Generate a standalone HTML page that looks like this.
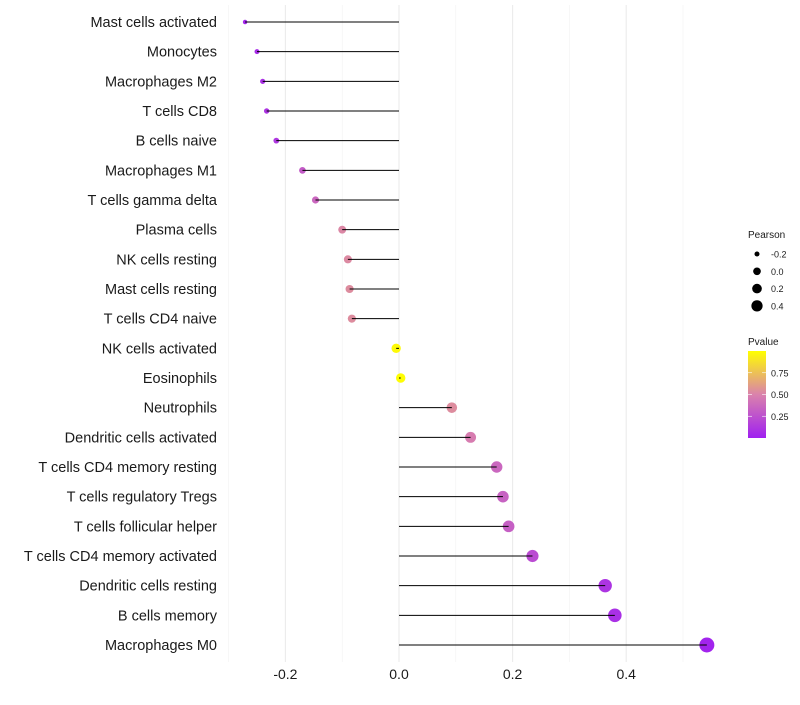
<!DOCTYPE html>
<html><head><meta charset="utf-8"><style>
body{margin:0;background:#fff;font-family:"Liberation Sans",sans-serif}
</style></head><body>
<svg id="c" width="800" height="700" xmlns="http://www.w3.org/2000/svg"></svg>
<script>
const cells=["Mast cells activated","Monocytes","Macrophages M2","T cells CD8","B cells naive","Macrophages M1","T cells gamma delta","Plasma cells","NK cells resting","Mast cells resting","T cells CD4 naive","NK cells activated","Eosinophils","Neutrophils","Dendritic cells activated","T cells CD4 memory resting","T cells regulatory  Tregs ","T cells follicular helper","T cells CD4 memory activated","Dendritic cells resting","B cells memory","Macrophages M0"];
const pearson=[-0.271,-0.25,-0.24,-0.233,-0.216,-0.17,-0.147,-0.1,-0.09,-0.087,-0.083,-0.005,0.003,0.093,0.126,0.172,0.183,0.193,0.235,0.363,0.38,0.542];
const pvalue=[0.03,0.06,0.08,0.1,0.12,0.3,0.36,0.52,0.53,0.54,0.54,0.98,0.99,0.54,0.47,0.36,0.34,0.32,0.22,0.1,0.08,0.02];
const xTicks=[-0.2,0,0.2,0.4];
const xTickLabels=["-0.2","0.0","0.2","0.4"];
const xMinor=[-0.3,-0.1,0.1,0.3,0.5];
const sizeLegend=[-0.2,0,0.2,0.4];
const sizeLegendLabels=["-0.2","0.0","0.2","0.4"];
const pLegend=[0.25,0.5,0.75];
const pLegendLabels=["0.25","0.50","0.75"];

const svg=document.getElementById('c');
const NS="http://www.w3.org/2000/svg";
const xS=v=>399+v*568;
const yS=i=>22+i*(623/21);
const rS=v=>Math.sqrt(4.9+(v+0.271)*63);
function lerp(a,b,t){return a.map((x,i)=>Math.round(x+(b[i]-x)*t));}
function col(p){const c0=[160,32,240],c1=[218,130,172],c2=[255,255,0];
 const c=p<0.5?lerp(c0,c1,p/0.5):lerp(c1,c2,(p-0.5)/0.5);return `rgb(${c.join(',')})`;}
function el(t,a,p){const e=document.createElementNS(NS,t);for(const k in a)e.setAttribute(k,a[k]);(p||svg).appendChild(e);return e;}

xMinor.forEach(v=>{const l=el('line',{x1:xS(v),x2:xS(v),y1:5,y2:662,stroke:'#f2f2f2','stroke-width':0.6});

});
xTicks.forEach((v,i)=>{const l=el('line',{x1:xS(v),x2:xS(v),y1:5,y2:662,stroke:'#ebebeb','stroke-width':1.1});


const t=el('text',{x:xS(v),y:679,'text-anchor':'middle','font-size':14,fill:'#1a1a1a'});t.textContent=xTickLabels[i];

});
cells.forEach((c,i)=>{
 const y=yS(i);
 const t=el('text',{x:217,y:y+5,'text-anchor':'end','font-size':14.5,fill:'#1a1a1a'});t.textContent=c;
 
 
 const p=el('circle',{cx:xS(pearson[i]),cy:y,r:rS(pearson[i]),fill:col(pvalue[i])});
 
 
 const s=el('line',{x1:xS(0),x2:xS(pearson[i]),y1:y,y2:y,stroke:'#000','stroke-width':1});
 
 
});
const lt=el('text',{x:748,y:238,'font-size':10,fill:'#1a1a1a'});lt.textContent="Pearson";


sizeLegend.forEach((v,i)=>{const y=254+i*17.3;
 const c=el('circle',{cx:757,cy:y,r:rS(v)*0.82,fill:'#000'});
 
 
 const t=el('text',{x:771,y:y+3.5,'font-size':9,fill:'#1a1a1a'});t.textContent=sizeLegendLabels[i];
 
 });
const ct=el('text',{x:748,y:345,'font-size':10,fill:'#1a1a1a'});ct.textContent="Pvalue";


const defs=el('defs',{});
const g=el('linearGradient',{id:'pg',x1:0,y1:1,x2:0,y2:0},defs);
[0,0.5,1].forEach(o=>el('stop',{offset:o,'stop-color':col(o)},g));
const bar=el('rect',{x:748,y:351,width:18,height:87,fill:'url(#pg)'});


const pY=p=>438-p*87;
pLegend.forEach((p,i)=>{
 el('line',{x1:748,x2:752,y1:pY(p),y2:pY(p),stroke:'#fff','stroke-width':0.6});
 el('line',{x1:762,x2:766,y1:pY(p),y2:pY(p),stroke:'#fff','stroke-width':0.6});
 const t=el('text',{x:771,y:pY(p)+3.5,'font-size':9,fill:'#1a1a1a'});t.textContent=pLegendLabels[i];
 
 });
</script>
</body></html>
